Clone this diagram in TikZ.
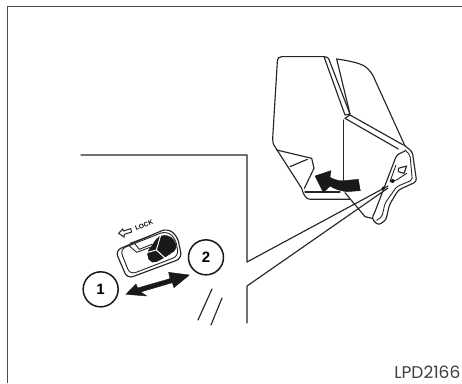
\documentclass[tikz,border=0pt]{standalone}
\usepackage{fontspec}
\setmainfont{Liberation Sans}
\newfontfamily\codefont{Poppins}
\begin{document}
\begin{tikzpicture}[x=1pt,y=-1pt,
  ln/.style={draw=black!85,line width=1.15pt,line join=round,line cap=round},
  thn/.style={draw=black!85,line width=.9pt,line join=round,line cap=round},
  blk/.style={fill=black!90,draw=black!90,line width=.4pt,line join=round},
  num/.style={circle,draw=black!90,line width=1.5pt,minimum size=35pt,inner sep=0pt,font=\bfseries\fontsize{15}{15}\selectfont}]
\useasboundingbox (0,0) rectangle (462,383);
\draw[draw=black!70,line width=1pt] (7.5,383) -- (7.5,6.5) -- (462,6.5);
% vehicle body lines with pointer
\draw[ln] (81,155) -- (247,155) -- (247,262) -- (388,186);
\draw[ln] (247,323) -- (247,286) -- (388,188);
\draw[ln] (212,289) -- (198,320);
\draw[ln] (222,298) -- (211,325);
% door and mirror
\begin{scope}[shift={(250,40)},x=.3333pt,y=-.3333pt]
  \draw[ln] (222,50) -- (95,50) .. controls (87,50) and (83,54) .. (82,65) -- (68,295) .. controls (68,312) and (72,318) .. (78,325) -- (155,445) .. controls (162,470) and (170,478) .. (182,478) -- (300,478);
  \draw[ln] (222,50) -- (285,225) -- (300,222) -- (236,56) .. controls (233,52) and (228,50) .. (222,50);
  \draw[ln] (260,57) -- (300,222);
  \draw[ln] (260,57) .. controls (295,62) and (325,68) .. (343,78) .. controls (358,88) and (368,102) .. (375,120) -- (465,318);
  \draw[ln] (285,235) -- (300,225) -- (460,315);
  \draw[ln] (285,235) -- (445,327);
  \draw[ln] (280,240) -- (280,420);
  \draw[ln] (285,458) -- (345,530) -- (365,535);
  \draw[ln] (80,330) -- (185,355) -- (192,385) -- (163,445);
  \draw[ln] (120,380) -- (172,358);
  \draw[ln] (165,456) -- (270,456);
  \draw[ln,rounded corners=3pt] (462,315) -- (487,335) -- (500,425) -- (445,450) -- (418,495) -- (408,540) -- (385,556) -- (365,536) -- (375,515) -- (440,345) -- (465,333);
  \draw[thn,rounded corners=2pt] (465,330) -- (480,345) -- (487,420) -- (440,440) -- (405,490) -- (396,530) -- (380,541);
  \draw[thn] (438,375) -- (420,425) -- (440,420) -- (470,400);
  \draw[ln] (445,385) -- (470,378) -- (462,400) -- (445,395) -- cycle;
  \fill[black!90] (428,423) circle (6);
  \draw[blk] (195,408) -- (243,392) -- (240,412) .. controls (255,420) and (270,424) .. (282,422) -- (325,418) -- (331,452) -- (290,455) .. controls (270,452) and (255,448) .. (240,438) -- (220,458) -- cycle;
  \draw[blk] (400,445) circle (5);
\end{scope}
% switch
\begin{scope}[shift={(70,200)},x=.3333pt,y=-.3333pt]
  \draw[ln,rounded corners=6pt] (136,152) -- (292,85) -- (322,108) -- (336,175) -- (172,236) -- cycle;
  \draw[thn,rounded corners=6pt] (150,148) -- (288,93) -- (316,114) -- (326,168) -- (180,224) -- cycle;
  \draw[thn] (180,130) -- (240,108);
  \draw[thn] (176,136) -- (200,157) -- (240,142);
  \draw[thn] (192,128) -- (208,148) -- (245,133);
  \draw[blk,rounded corners=5pt] (228,162) -- (268,105) -- (305,108) -- (324,145) -- (285,172) -- (245,192) -- cycle;
  \draw[white,line width=1pt] (272,106) -- (259,150) -- (230,158);
  \draw[white,line width=1pt] (259,150) -- (285,174);
  \draw[black!85,line width=1pt,line join=miter] (146,100) -- (158,87) -- (160,93) -- (182,86) -- (185,96) -- (163,103) -- (162,111) -- cycle;
  \node[rotate=20,font=\fontsize{6.5}{7}\selectfont\bfseries,inner sep=0pt] (locklabel) at (222,76) {LOCK};
  \node[num] (one) at (92,268) {1};
  \node[num] (two) at (408,172) {2};
  \draw[blk] (168,283) -- (198,252) -- (203,264) -- (300,236) -- (296,217) -- (358,225) -- (312,263) -- (307,248) -- (212,276) -- (230,288) -- cycle;
\end{scope}
\node[anchor=base east,inner sep=0pt,font=\codefont\fontsize{17}{18}\selectfont,text=black!75] (code) at (460.5,378) {LPD2166};
\end{tikzpicture}
\end{document}
